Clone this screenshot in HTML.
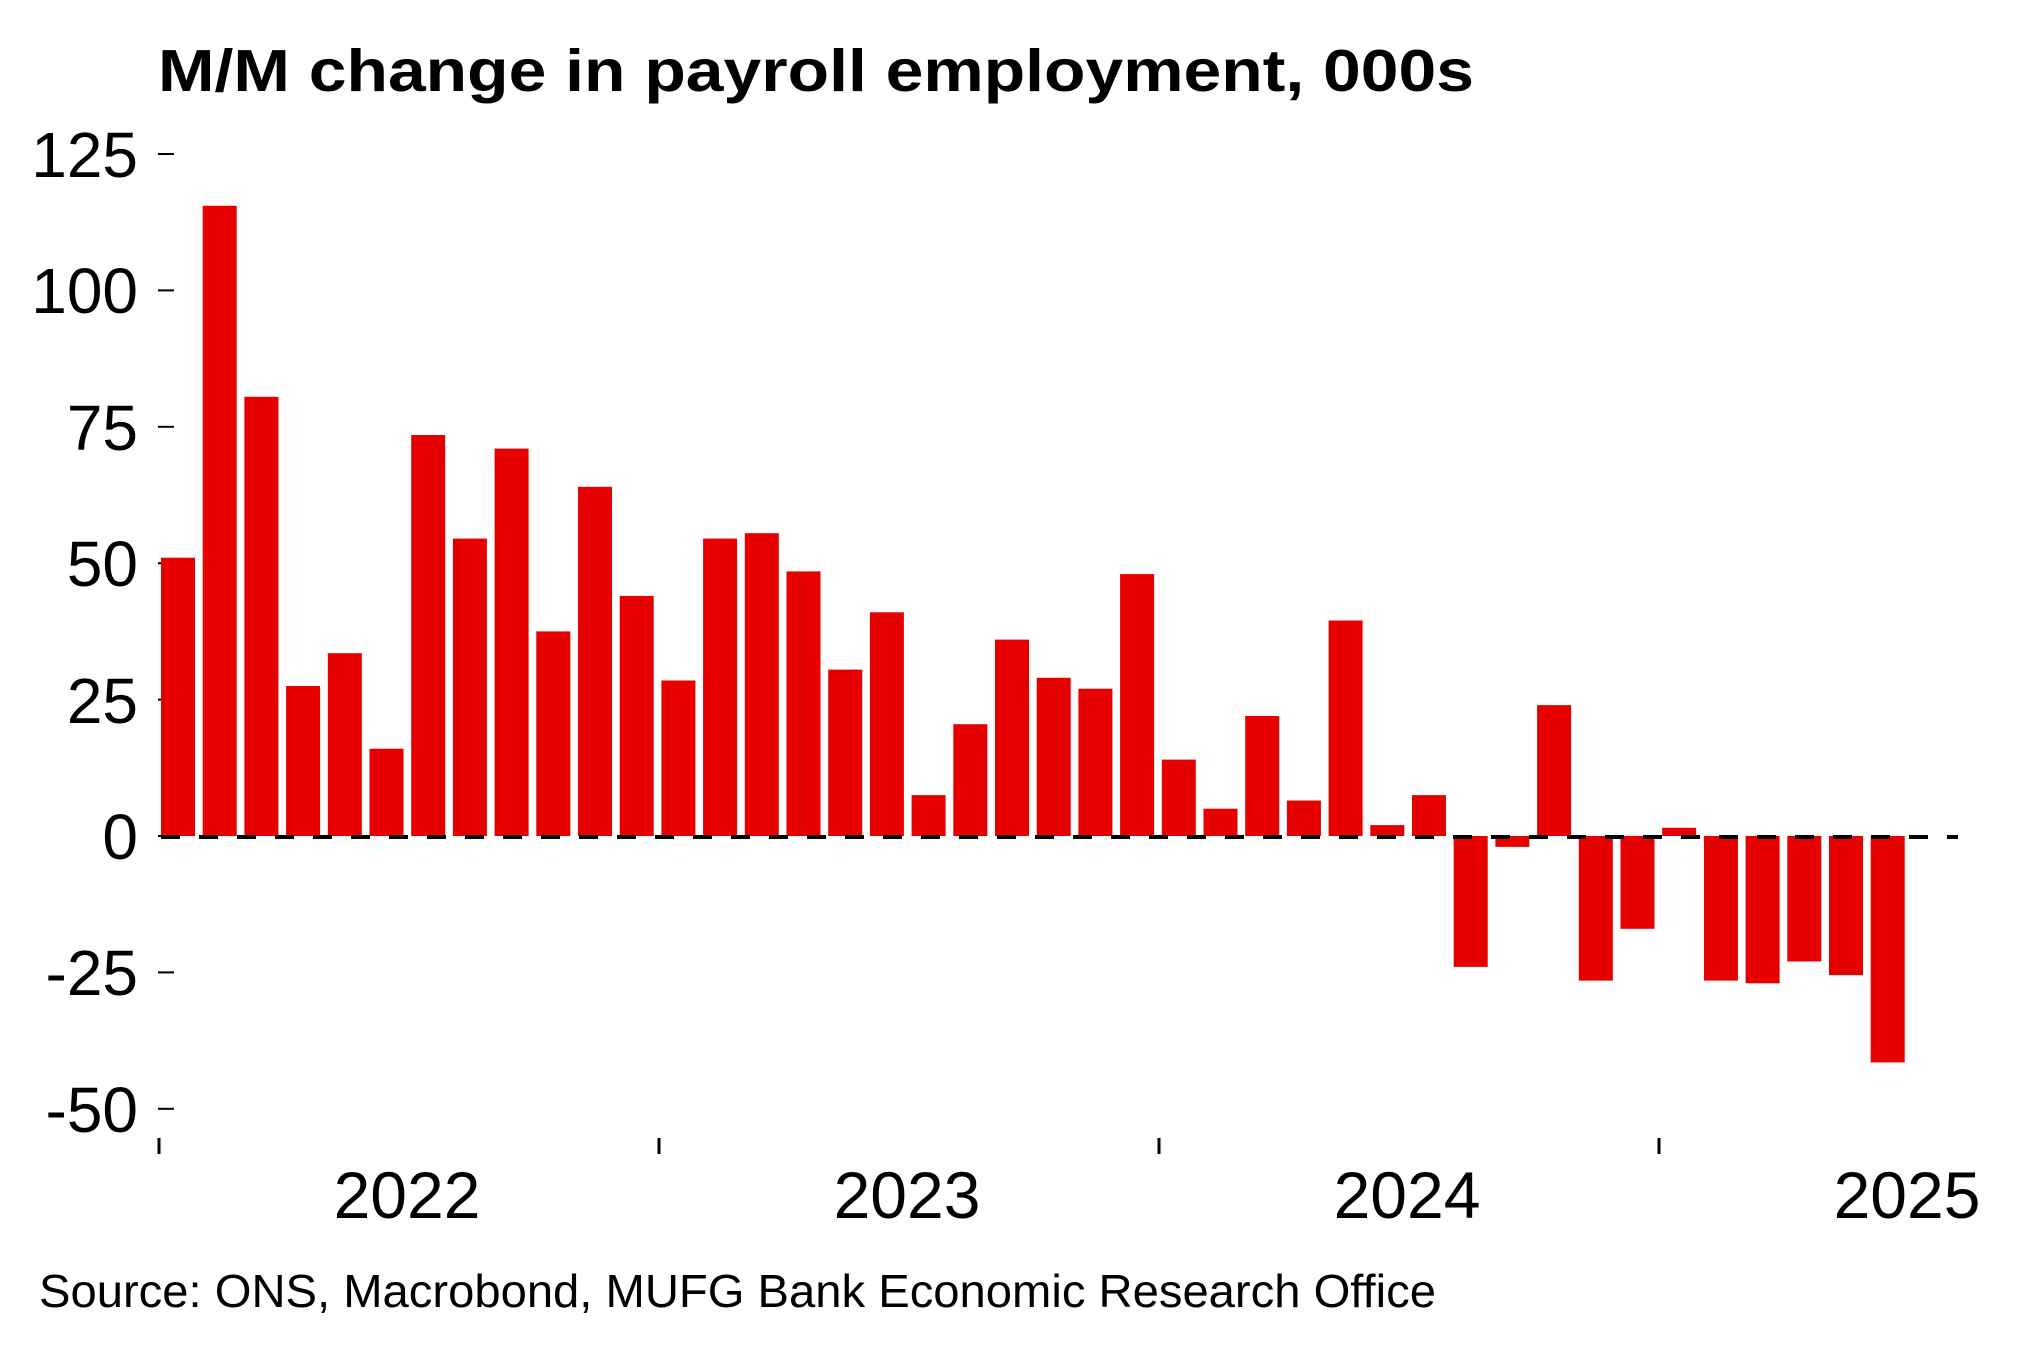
<!DOCTYPE html>
<html><head><meta charset="utf-8"><style>html,body{margin:0;padding:0;background:#fff}svg{display:block}</style></head>
<body>
<svg width="2037" height="1359" viewBox="0 0 2037 1359" xmlns="http://www.w3.org/2000/svg" font-family="Liberation Sans, Arial, sans-serif">
<rect width="2037" height="1359" fill="#fff"/>
<text x="158" y="91" font-size="59" font-weight="bold" textLength="1316" lengthAdjust="spacingAndGlyphs">M/M change in payroll employment, 000s</text>
<g font-size="64" text-anchor="end" fill="#000">
<text x="138" y="177">125</text>
<text x="138" y="313">100</text>
<text x="138" y="450">75</text>
<text x="138" y="586">50</text>
<text x="138" y="723">25</text>
<text x="138" y="859">0</text>
<text x="138" y="995">-25</text>
<text x="138" y="1132">-50</text>
</g>
<g stroke="#000" stroke-width="2">
<line x1="158" x2="174" y1="154" y2="154"/>
<line x1="158" x2="174" y1="290.4" y2="290.4"/>
<line x1="158" x2="174" y1="426.8" y2="426.8"/>
<line x1="158" x2="174" y1="563.2" y2="563.2"/>
<line x1="158" x2="174" y1="699.6" y2="699.6"/>
<line x1="158" x2="174" y1="836" y2="836"/>
<line x1="158" x2="174" y1="972.4" y2="972.4"/>
<line x1="158" x2="174" y1="1108.8" y2="1108.8"/>
<line x1="159" x2="159" y1="1138" y2="1154" stroke-width="3"/>
<line x1="659" x2="659" y1="1138" y2="1154" stroke-width="3"/>
<line x1="1159" x2="1159" y1="1138" y2="1154" stroke-width="3"/>
<line x1="1659" x2="1659" y1="1138" y2="1154" stroke-width="3"/>
</g>
<g id="bars" fill="#e60000"></g>
<line x1="161" x2="1958" y1="837" y2="837" stroke="#000" stroke-width="4" stroke-dasharray="19 19"/>
<g font-size="66" text-anchor="middle">
<text x="407" y="1218">2022</text>
<text x="907" y="1218">2023</text>
<text x="1407" y="1218">2024</text>
<text x="1907" y="1218">2025</text>
</g>
<text x="39" y="1307" font-size="46" textLength="1397" lengthAdjust="spacingAndGlyphs">Source: ONS, Macrobond, MUFG Bank Economic Research Office</text>
<script type="text/javascript"><![CDATA[
var v=[51,115.5,80.5,27.5,33.5,16,73.5,54.5,71,37.5,64,44,28.5,54.5,55.5,48.5,30.5,41,7.5,20.5,36,29,27,48,14,5,22,6.5,39.5,2,7.5,-24,-2,24,-26.5,-17,1.5,-26.5,-27,-23,-25.5,-41.5];
var g=document.getElementById('bars'),s='';
for(var i=0;i<v.length;i++){var x=161+i*41.7,h=Math.abs(v[i])*136.4/25,y=v[i]>=0?836-h:836;s+='<rect x="'+x.toFixed(1)+'" y="'+y.toFixed(1)+'" width="34" height="'+h.toFixed(1)+'"/>';}
g.innerHTML=s;
]]></script>
</svg>
</body></html>
